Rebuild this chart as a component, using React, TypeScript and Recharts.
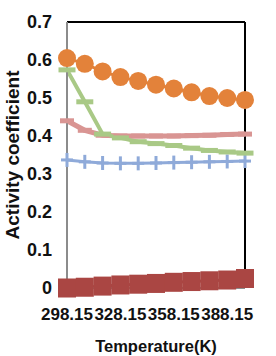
import React from 'react';
import { LineChart, Line, XAxis, YAxis, ReferenceLine } from 'recharts';

const temperatures = ['298.15', '308.15', '318.15', '328.15', '338.15', '348.15', '358.15', '368.15', '378.15', '388.15', '398.15'];
const orangeSeries = [0.605, 0.59, 0.57, 0.555, 0.545, 0.535, 0.525, 0.515, 0.505, 0.5, 0.495];
const greenSeries = [0.574, 0.49, 0.405, 0.395, 0.385, 0.38, 0.375, 0.368, 0.362, 0.358, 0.355];
const pinkSeries = [0.44, 0.415, 0.402, 0.4, 0.4, 0.4, 0.4, 0.401, 0.402, 0.404, 0.405];
const blueSeries = [0.337, 0.332, 0.329, 0.328, 0.328, 0.329, 0.33, 0.331, 0.332, 0.333, 0.334];
const redSeries = [0, 0.002, 0.005, 0.008, 0.01, 0.012, 0.015, 0.017, 0.019, 0.021, 0.025];
const yTicks = [0, 0.1, 0.2, 0.3, 0.4, 0.5, 0.6, 0.7];

const data = temperatures.map((t, i) => ({
  t,
  orange: orangeSeries[i],
  green: greenSeries[i],
  pink: pinkSeries[i],
  blue: blueSeries[i],
  red: redSeries[i],
}));

const FONT = '"Liberation Sans", Arial, sans-serif';
const C_ORANGE = '#E3823A';
const C_GREEN = '#A9C986';
const C_PINK = '#D99593';
const C_BLUE = '#8FAAD9';
const C_RED = '#AA4643';

const CircleDot = (p: any) => (
  <circle key={`o${p.index}`} cx={p.cx} cy={p.cy} r={9} fill={C_ORANGE} />
);
const DashDot = (color: string, w: number, h: number, k: string) => (p: any) => (
  <rect key={`${k}${p.index}`} x={p.cx - w / 2} y={p.cy - h / 2} width={w} height={h} fill={color} />
);
const PlusDot = (p: any) => (
  <g key={`b${p.index}`}>
    <line x1={p.cx - 6} x2={p.cx + 6} y1={p.cy} y2={p.cy} stroke={C_BLUE} strokeWidth={3} />
    <line x1={p.cx} x2={p.cx} y1={p.cy - 7} y2={p.cy + 7} stroke={C_BLUE} strokeWidth={3} />
  </g>
);
const SquareDot = (p: any) => (
  <rect key={`r${p.index}`} x={p.cx - 9} y={p.cy - 9.5} width={18} height={19} fill={C_RED} />
);

const XTick = (p: any) => (
  <text x={p.x} y={p.y} dy={24} textAnchor="middle" fontFamily={FONT} fontSize={17} fontWeight="bold" fill="#111">
    {p.payload.value}
  </text>
);
const YTick = (p: any) => (
  <text x={p.x} y={p.y} dy={6} textAnchor="end" fontFamily={FONT} fontSize={18} fontWeight="bold" fill="#111">
    {p.payload.value === 0 ? '0' : Number(p.payload.value).toFixed(1)}
  </text>
);

const YTitle = (p: any) => {
  const vb = p.viewBox || {};
  const cx = (vb.x ?? 0) + 12;
  const cy = (vb.y ?? 0) + (vb.height ?? 0) / 2;
  return (
    <text
      x={cx}
      y={cy}
      transform={`rotate(-90 ${cx} ${cy})`}
      textAnchor="middle"
      dominantBaseline="central"
      fontFamily={FONT}
      fontSize={19}
      fontWeight="bold"
      fill="#111"
    >
      Activity coefficient
    </text>
  );
};

export default function App() {
  return (
    <div style={{ position: 'absolute', left: 0, top: 0, background: '#fff' }}>
      <LineChart width={276} height={356} data={data} margin={{ top: 22, right: 31, left: 0, bottom: 0 }}>
        <XAxis
          dataKey="t"
          interval={2}
          tickLine={false}
          axisLine={{ stroke: '#8c8c8c', strokeWidth: 2 }}
          tick={<XTick />}
          height={68}
          label={{
            value: 'Temperature(K)',
            position: 'insideBottom',
            offset: 4,
            fontFamily: FONT,
            fontSize: 16.5,
            fontWeight: 'bold',
            fill: '#111',
          }}
        />
        <YAxis
          domain={[0, 0.7]}
          ticks={yTicks}
          width={67}
          tickLine={false}
          tickSize={0}
          tickMargin={15}
          axisLine={{ stroke: '#8c8c8c', strokeWidth: 2 }}
          tick={<YTick />}
          label={<YTitle />}
        />
        <ReferenceLine y={0.7} stroke="#000" strokeWidth={2} />
        <ReferenceLine x="398.15" stroke="#000" strokeWidth={2} />
        <Line dataKey="blue" stroke={C_BLUE} strokeWidth={3} dot={PlusDot} isAnimationActive={false} />
        <Line dataKey="pink" stroke={C_PINK} strokeWidth={5} dot={DashDot(C_PINK, 14, 5, 'p')} isAnimationActive={false} />
        <Line dataKey="green" stroke={C_GREEN} strokeWidth={4} dot={DashDot(C_GREEN, 17, 5, 'g')} isAnimationActive={false} />
        <Line dataKey="orange" stroke={C_ORANGE} strokeWidth={3} dot={CircleDot} isAnimationActive={false} />
        <Line dataKey="red" stroke={C_RED} strokeWidth={3} dot={SquareDot} isAnimationActive={false} />
      </LineChart>
    </div>
  );
}
